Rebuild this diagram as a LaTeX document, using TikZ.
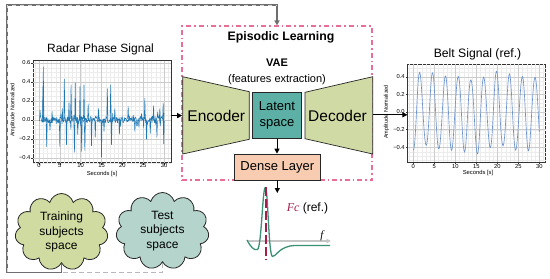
\documentclass[tikz,border=0pt]{standalone}
\usepackage{fontspec}
\setmainfont{Liberation Sans}
\newfontfamily\serifit{Liberation Serif}
\usetikzlibrary{arrows.meta,shapes.symbols,shapes.geometric}
\definecolor{encfill}{RGB}{208,218,165}
\definecolor{latfill}{RGB}{92,176,165}
\definecolor{denfill}{RGB}{248,204,176}
\definecolor{trfill}{RGB}{207,219,160}
\definecolor{tefill}{RGB}{180,212,204}
\definecolor{pinkline}{RGB}{232,110,150}
\definecolor{mplblue}{RGB}{31,119,180}
\definecolor{beltblue}{RGB}{110,148,205}
\definecolor{fcgreen}{RGB}{60,145,115}
\definecolor{fcred}{RGB}{165,30,75}
\definecolor{loopgray}{RGB}{110,110,110}
\newcommand{\tickfnt}{\fontsize{5.8}{6.5}\selectfont}
\newcommand{\axfnt}{\fontsize{5.8}{6.5}\selectfont}
\begin{document}
\begin{tikzpicture}[x=1pt,y=-1pt,
  blockline/.style={draw=black!85, line width=0.7pt},
  arr/.style={-{Triangle[length=5pt,width=5pt]}, line width=1pt, black},
  minorgrid/.style={gray!15, line width=0.2pt},
  majorgrid/.style={gray!40, line width=0.4pt},
  ticklab/.style={font=\tickfnt, inner sep=0pt},
  cloudbox/.style={cloud, cloud puffs=11, cloud ignores aspect, draw=black!85, line width=0.8pt,
     minimum width=93pt, minimum height=77pt, align=center, font=\fontsize{12}{14.5}\selectfont, inner sep=0pt}
]
\useasboundingbox (0,0) rectangle (550,279);
\fill[white] (0,0) rectangle (550,279);

% ---------- frame nodes ----------
\node[draw=black!80, line width=0.5pt, minimum width=137.7pt, minimum height=102pt, inner sep=0pt] (rp) at (102.2,111.7) {};
\node[draw=black!80, line width=0.5pt, minimum width=138pt, minimum height=98pt, inner sep=0pt] (bp) at (476.7,113) {};

% ---------- Radar phase plot ----------
\node[font=\fontsize{12}{14}\selectfont, inner sep=0pt] (rtitle) at (100.5,49) {Radar Phase Signal};
\begin{scope}[shift={(39,120)}, x=4.167pt, y=95pt]
  \foreach \t in {-1,...,31} \draw[minorgrid] (\t,0.624) -- (\t,-0.449);
  \foreach \v in {-0.45,-0.4,...,0.61} \draw[minorgrid] (-1.37,\v) -- (31.67,\v);
  \foreach \t in {0,5,...,30} \draw[majorgrid] (\t,0.624) -- (\t,-0.449);
  \foreach \v in {-0.4,-0.2,0,0.2,0.4,0.6} \draw[majorgrid] (-1.37,\v) -- (31.67,\v);
  \foreach \t in {0,5,...,30} {
    \draw[black!80, line width=0.4pt] (\t,-0.449) -- (\t,-0.469);
    \node[ticklab] at (\t,-0.478) {\t};
  }
  \foreach \v/\l in {0.6/0.6,0.4/0.4,0.2/0.2,0/0.0,-0.2/−0.2,-0.4/−0.4} {
    \draw[black!80, line width=0.4pt] (-1.37,\v) -- (-1.85,\v);
    \node[ticklab, anchor=east] at (-2.0,\v) {\l};
  }
  \pgfmathsetseed{11}
  \draw[mplblue, line width=0.55pt, line join=round] plot[domain=0:30, samples=240]
     (\x, {0.005+0.035*rand+0.08*rand*(rnd>0.8)});
  \foreach \t/\v in {0.96/0.35,1.04/0.56,1.84/-0.28,5.0/-0.28,5.6/0.12,6.08/0.43,6.6/-0.26,7.2/0.18,7.7/0.37,
     8.5/-0.34,8.7/0.39,9.3/-0.15,9.84/0.35,10.24/-0.33,10.8/0.37,11.0/-0.32,11.8/0.17,12.6/-0.27,
     13.5/-0.18,14.3/0.12,15.0/-0.39,15.6/-0.12,16.4/0.33,17.2/0.37,17.4/-0.26,18.2/0.12,19.3/-0.15,
     21.4/0.14,23.0/-0.12,25.4/0.23,25.8/-0.2,26.7/-0.14,27.5/0.15,28.3/-0.18,29.0/0.12,29.8/0.18,29.93/-0.25}
    \draw[mplblue, line width=0.55pt, line join=round] (\t-0.13,0.01) -- (\t,\v) -- (\t+0.13,-0.01);
\end{scope}
\node[font=\axfnt, inner sep=0pt] (rxl) at (102,173.5) {Seconds [s]};
\node[font=\fontsize{5.5}{6}\selectfont, rotate=90, inner sep=0pt] (ryl) at (13,110) {Amplitude Normalized};

% ---------- Belt plot ----------
\node[font=\fontsize{12.2}{14}\selectfont, inner sep=0pt] (btitle) at (477.5,54) {Belt Signal (ref.)};
\begin{scope}[shift={(413.3,112)}, x=4.2pt, y=88.25pt]
  \foreach \t in {-1,...,31} \draw[minorgrid] (\t,0.544) -- (\t,-0.567);
  \foreach \v in {-0.55,-0.5,...,0.54} \draw[minorgrid] (-1.33,\v) -- (31.5,\v);
  \foreach \t in {0,5,...,30} \draw[majorgrid] (\t,0.544) -- (\t,-0.567);
  \foreach \v in {-0.4,-0.2,0,0.2,0.4} \draw[majorgrid] (-1.33,\v) -- (31.5,\v);
  \foreach \t in {0,5,...,30} {
    \draw[black!80, line width=0.4pt] (\t,-0.567) -- (\t,-0.59);
    \node[ticklab] at (\t,-0.623) {\t};
  }
  \foreach \v/\l in {0.4/0.4,0.2/0.2,0/0.0,-0.2/−0.2,-0.4/−0.4} {
    \draw[black!80, line width=0.4pt] (-1.33,\v) -- (-1.8,\v);
    \node[ticklab, anchor=east] at (-2.0,\v) {\l};
  }
  \draw[beltblue, line width=0.65pt] plot[domain=0:30, samples=300, smooth]
     (\x, {-(0.42+0.04*sin(97*\x))*cos(360*\x/3.05) + 0.02*sin(41*\x) - 0.01});
\end{scope}
\node[font=\axfnt, inner sep=0pt] (bxl) at (478,173) {Seconds [s]};
\node[font=\fontsize{5.5}{6}\selectfont, rotate=90, inner sep=0pt] (byl) at (386.5,112) {Amplitude Normalized};

% ---------- Episodic learning box ----------
\node[draw=pinkline, line width=1.1pt, dash pattern=on 5pt off 3pt on 1.5pt off 3pt,
      minimum width=190pt, minimum height=154pt, inner sep=0pt] (ep) at (277,103) {};
\node[font=\bfseries\fontsize{12.3}{14}\selectfont, inner sep=0pt] (eptitle) at (281,37.7) {Episodic Learning};
\node[font=\bfseries\fontsize{11}{13}\selectfont, inner sep=0pt] (vae) at (277,62.3) {VAE};
\node[font=\fontsize{11}{13}\selectfont, inner sep=0pt] (feat) at (277,80) {(features extraction)};

% encoder / decoder
\draw[blockline, fill=encfill] (182.7,76.7) -- (249.3,91.7) -- (249.3,139.3) -- (182.7,154) -- cycle;
\draw[blockline, fill=encfill] (305,92.3) -- (372.7,76.7) -- (372.7,154) -- (305,138.7) -- cycle;
\node[font=\fontsize{15.5}{17}\selectfont, inner sep=0pt] (enc) at (216.3,115.5) {Encoder};
\node[font=\fontsize{15.5}{17}\selectfont, inner sep=0pt] (dec) at (337.5,115.5) {Decoder};
\coordinate (encL) at (182.2,115.6);
\coordinate (decR) at (373,114.8);

\node[blockline, fill=latfill, minimum width=49.4pt, minimum height=46pt, inner sep=0pt, align=center,
      font=\fontsize{13}{16.5}\selectfont] (lat) at (277,115.3) {Latent\\space};
\node[blockline, fill=denfill, minimum width=86pt, minimum height=26pt, inner sep=0pt,
      font=\fontsize{13}{15}\selectfont] (dense) at (277.3,167) {Dense Layer};

% arrows
\draw[arr] (rp.east |- encL) -- (encL);
\draw[arr] (decR) -- (bp.west |- decR) ;
\draw[arr] (lat.south) -- (lat.south |- dense.north);
\coordinate (fctop) at (277.3,193);
\draw[arr] (dense.south -| fctop) -- (fctop);

% ---------- Fc plot ----------
\coordinate (fax0) at (246.7,241);
\coordinate (fax1) at (331,241);
\draw[gray!45, line width=1.3pt, -{Triangle[length=4.5pt,width=4.5pt]}] (fax0) -- (fax1);
\node[font=\serifit\itshape\fontsize{11}{12}\selectfont, inner sep=0pt] (fsym) at (322,235.5) {f};
\draw[fcgreen, line width=1.3pt, line join=round]
  (247,240) .. controls (250.5,246.5) and (254,251) .. (257.5,249.5)
  .. controls (261.5,247) and (262.5,188) .. (265.3,187.5)
  .. controls (268,187) and (268.5,256) .. (272.5,256.5)
  .. controls (276,257) and (279,246) .. (295,245.5) -- (330,245.5);
\coordinate (fcr0) at (266,186.5);
\coordinate (fcr1) at (266,260);
\draw[fcred, line width=1.4pt, dash pattern=on 9pt off 3pt] (fcr0) -- (fcr1);
\node[font=\fontsize{12}{14}\selectfont, inner sep=0pt] (fclab) at (307.5,208.3)
   {\textcolor{fcred}{\serifit\itshape Fc} (ref.)};

% ---------- Clouds ----------
\node[cloudbox, fill=trfill] (train) at (61.5,232) {Training\\subjects\\space};
\node[cloudbox, fill=tefill] (test) at (162.5,231) {Test\\subjects\\space};

% ---------- Loop connectors ----------
\coordinate (loopBL) at (7,272.3);
\coordinate (loopTL) at (7,5);
\coordinate (loopTR) at (277,5);
\draw[gray!55, line width=1.1pt, dash pattern=on 5pt off 3pt] (test.south) -- (test.south |- loopBL) -- (train.south |- loopBL);
\draw[loopgray, line width=1.3pt, -{Triangle[length=5pt,width=5pt]}]
  (train.south) -- (train.south |- loopBL) -- (loopBL) -- (loopTL) -- (loopTR) -- (ep.north);
\draw[gray!30, line width=0.6pt, dash pattern=on 4pt off 4pt] (loopBL) -- (loopTL) -- (loopTR);
\end{tikzpicture}
\end{document}
